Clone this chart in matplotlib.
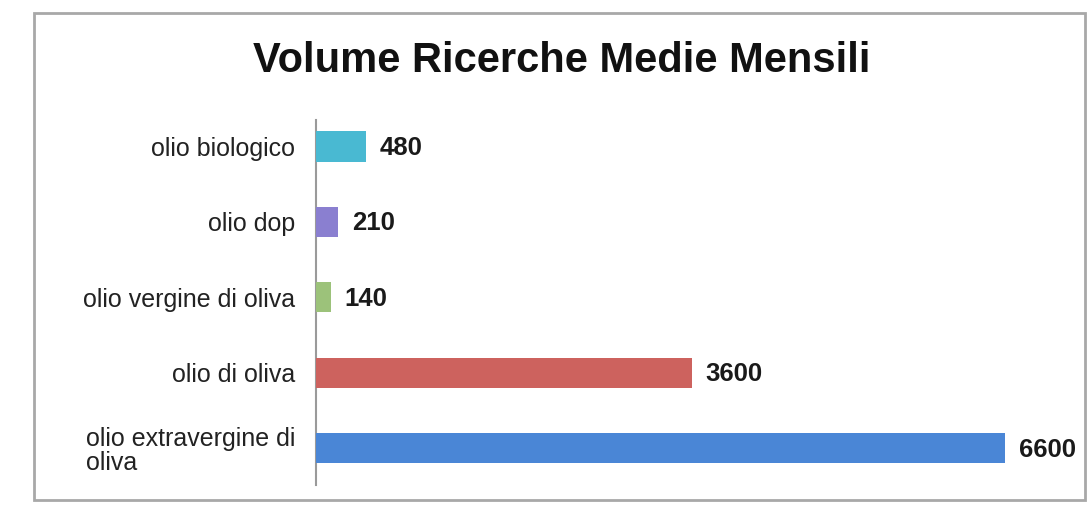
import matplotlib.pyplot as plt
import matplotlib.patches as mpatches

# ── Data ──────────────────────────────────────────────────────────────────────
categories = ['olio extravergine di\noliva', 'olio di oliva', 'olio vergine di oliva',
              'olio dop', 'olio biologico']
volumes    = [6600, 3600, 140, 210, 480]
colors     = ['#4A86D6', '#CD625E', '#9CC27A', '#8A7FD0', '#49B9D2']

plt.rcParams['font.family'] = ['Liberation Sans', 'DejaVu Sans']

# ── Figure ────────────────────────────────────────────────────────────────────
fig = plt.figure(figsize=(10.9, 5.07), dpi=100)
ax = fig.add_axes([0.29, 0.043, 0.67, 0.72])

y = range(len(categories))
ax.barh(y, volumes, height=0.4, color=colors, zorder=3)

for yi, v in zip(y, volumes):
    ax.annotate(f'{v}', xy=(v, yi), xytext=(10, -1), textcoords='offset points',
                va='center', ha='left', fontsize=18.5, fontweight='bold', color='#1a1a1a')

ax.set_xlim(0, 7000)
ax.set_ylim(-0.49, 4.35)
ax.set_yticks(list(y))
ax.set_yticklabels(categories, fontsize=18, color='#222222', multialignment='left',
                   linespacing=1.0)
ax.tick_params(axis='y', length=0, pad=15)
ax.set_xticks([])
for s in ['top', 'right', 'bottom']:
    ax.spines[s].set_visible(False)
ax.spines['left'].set_color('#9a9a9a')
ax.spines['left'].set_linewidth(1.5)

fig.text(0.515, 0.88, 'Volume Ricerche Medie Mensili', ha='center', va='center',
         fontsize=30, fontweight='bold', color='#111111')

# ── Outer frame ───────────────────────────────────────────────────────────────
frame = mpatches.Rectangle((0.031, 0.014), 0.964, 0.96, transform=fig.transFigure,
                           fill=False, edgecolor='#a8a8a8', linewidth=2)
fig.patches.append(frame)

fig.savefig('out.png', dpi=100)
